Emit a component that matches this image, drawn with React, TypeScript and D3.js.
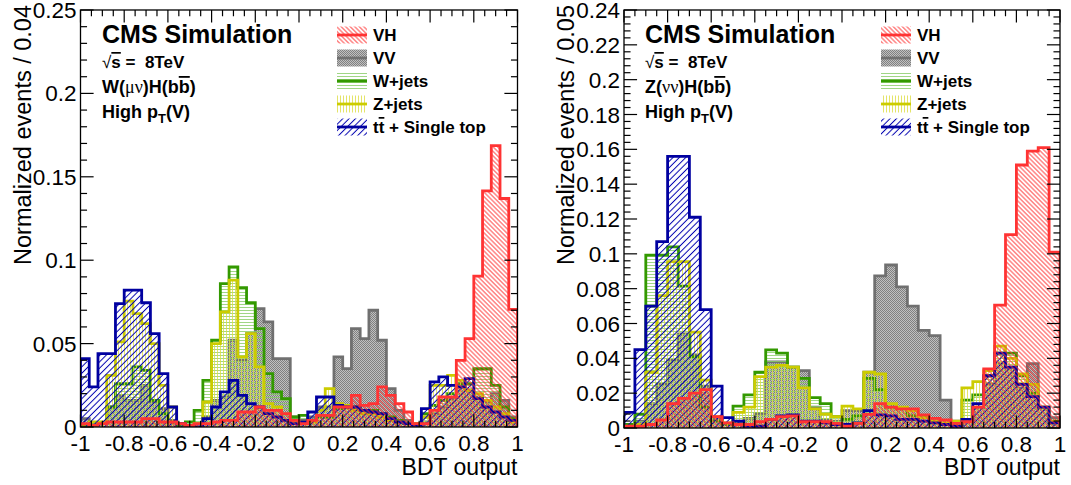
import React from 'react';
import * as d3 from 'd3';

// ---------------- DATA ----------------
// Left panel: W(mu nu)H(bb), 50 bins of width 0.04 on [-1, 1]
const leftVH = [0.002, 0.001, 0.002, 0.003, 0.003, 0.003, 0.003, 0.005, 0.005, 0.003,
  0.003, 0.002, 0.001, 0.002, 0.002, 0.003, 0.004, 0.004, 0.009, 0.009,
  0.012, 0.010, 0.010, 0.008, 0.004, 0.002, 0.004, 0.007, 0.007, 0.012,
  0.012, 0.019, 0.013, 0.014, 0.024, 0.019, 0.014, 0.009, 0.002, 0.002,
  0.010, 0.018, 0.018, 0.040, 0.053, 0.0905, 0.1416, 0.1687, 0.137, 0.0705];
const leftVV = [0.005, 0.002, 0.002, 0.012, 0.019, 0.016, 0.016, 0.025, 0.015, 0.011,
  0.004, 0.001, 0.001, 0.002, 0.006, 0.016, 0.018, 0.052, 0.040, 0.056,
  0.071, 0.063, 0.041, 0.041, 0.006, 0.004, 0.006, 0.012, 0.012, 0.042,
  0.035, 0.059, 0.053, 0.070, 0.052, 0.023, 0.010, 0.004, 0.002, 0.003,
  0.008, 0.012, 0.017, 0.025, 0.022, 0.018, 0.015, 0.020, 0.016, 0.006];
const leftWjets = [0.001, 0.001, 0.002, 0.012, 0.026, 0.026, 0.036, 0.034, 0.016, 0.008,
  0.003, 0.001, 0.003, 0.010, 0.028, 0.052, 0.086, 0.096, 0.0835, 0.0745,
  0.059, 0.032, 0.021, 0.017, 0.006, 0.007, 0.004, 0.006, 0.006, 0.011,
  0.012, 0.012, 0.010, 0.010, 0.008, 0.006, 0.004, 0.002, 0.002, 0.008,
  0.013, 0.016, 0.020, 0.026, 0.026, 0.035, 0.035, 0.025, 0.012, 0.005];
const leftZjets = [0.0, 0.003, 0.003, 0.031, 0.051, 0.0755, 0.068, 0.062, 0.050, 0.025,
  0.012, 0.002, 0.001, 0.002, 0.015, 0.050, 0.069, 0.088, 0.042, 0.056,
  0.036, 0.014, 0.012, 0.004, 0.003, 0.003, 0.003, 0.010, 0.023, 0.014,
  0.013, 0.010, 0.008, 0.008, 0.006, 0.004, 0.003, 0.002, 0.002, 0.006,
  0.025, 0.025, 0.031, 0.028, 0.022, 0.020, 0.016, 0.012, 0.008, 0.003];
const leftTop = [0.041, 0.024, 0.044, 0.044, 0.074, 0.082, 0.082, 0.0745, 0.056, 0.032,
  0.012, 0.002, 0.001, 0.0, 0.005, 0.012, 0.021, 0.028, 0.019, 0.014,
  0.012, 0.008, 0.006, 0.004, 0.002, 0.003, 0.009, 0.018, 0.018, 0.013,
  0.012, 0.012, 0.010, 0.009, 0.008, 0.005, 0.003, 0.002, 0.001, 0.011,
  0.027, 0.030, 0.025, 0.024, 0.029, 0.017, 0.012, 0.009, 0.006, 0.004];

// Right panel: Z(nu nu)H(bb), 40 bins of width 0.05 on [-1, 1]
const rightVH = [0.001, 0.001, 0.002, 0.0046, 0.014, 0.017, 0.020, 0.022, 0.0065, 0.003,
  0.002, 0.002, 0.0036, 0.005, 0.0065, 0.007, 0.0036, 0.0036, 0.0036, 0.0027,
  0.001, 0.0027, 0.0078, 0.014, 0.012, 0.011, 0.011, 0.0075, 0.0055, 0.0046,
  0.0027, 0.0036, 0.012, 0.034, 0.0706, 0.111, 0.151, 0.159, 0.161, 0.101];
const rightVV = [0.002, 0.004, 0.014, 0.025, 0.039, 0.054, 0.042, 0.024, 0.005, 0.002,
  0.0036, 0.0055, 0.0084, 0.038, 0.038, 0.035, 0.033, 0.012, 0.0046, 0.004,
  0.010, 0.010, 0.032, 0.0873, 0.0936, 0.081, 0.070, 0.056, 0.053, 0.016,
  0.004, 0.005, 0.012, 0.025, 0.037, 0.035, 0.023, 0.037, 0.011, 0.006];
const rightWjets = [0.002, 0.008, 0.0993, 0.0993, 0.104, 0.0815, 0.041, 0.012, 0.004, 0.002,
  0.0126, 0.019, 0.032, 0.0448, 0.043, 0.035, 0.0285, 0.0174, 0.014, 0.0065,
  0.005, 0.007, 0.0285, 0.022, 0.012, 0.011, 0.007, 0.006, 0.004, 0.002,
  0.002, 0.016, 0.019, 0.030, 0.043, 0.043, 0.030, 0.020, 0.012, 0.003];
const rightZjets = [0.0, 0.002, 0.032, 0.076, 0.0955, 0.0955, 0.055, 0.0275, 0.0065, 0.003,
  0.009, 0.012, 0.0295, 0.035, 0.036, 0.035, 0.023, 0.011, 0.008, 0.0065,
  0.0126, 0.011, 0.032, 0.031, 0.014, 0.012, 0.010, 0.006, 0.004, 0.003,
  0.004, 0.023, 0.0266, 0.033, 0.047, 0.040, 0.031, 0.025, 0.012, 0.004];
const rightTop = [0.009, 0.045, 0.070, 0.107, 0.156, 0.156, 0.121, 0.068, 0.024, 0.006,
  0.004, 0.001, 0.001, 0.005, 0.007, 0.0075, 0.004, 0.004, 0.003, 0.002,
  0.002, 0.003, 0.010, 0.0075, 0.007, 0.005, 0.005, 0.004, 0.003, 0.002,
  0.001, 0.005, 0.014, 0.030, 0.043, 0.035, 0.025, 0.018, 0.012, 0.003];

const xTicks = [-1, -0.8, -0.6, -0.4, -0.2, 0, 0.2, 0.4, 0.6, 0.8, 1];
const xTickLabels = ['-1', '-0.8', '-0.6', '-0.4', '-0.2', '0', '0.2', '0.4', '0.6', '0.8', '1'];
const leftYTicks = [0, 0.05, 0.1, 0.15, 0.2, 0.25];
const leftYTickLabels = ['0', '0.05', '0.1', '0.15', '0.2', '0.25'];
const rightYTicks = [0, 0.02, 0.04, 0.06, 0.08, 0.1, 0.12, 0.14, 0.16, 0.18, 0.2, 0.22, 0.24];
const rightYTickLabels = ['0', '0.02', '0.04', '0.06', '0.08', '0.1', '0.12', '0.14', '0.16', '0.18', '0.2', '0.22', '0.24'];

const legendKeys = ['VH', 'VV', 'Wjets', 'Zjets', 'Top'];

// ---------------- STYLE ----------------
const FONT = '"Liberation Sans", Arial, Helvetica, sans-serif';
const STYLE: Record<string, { color: string; pattern: string }> = {
  VH: { color: '#ff3333', pattern: 'url(#pVH)' },
  VV: { color: '#707070', pattern: 'url(#pVV)' },
  Wjets: { color: '#339900', pattern: 'url(#pW)' },
  Zjets: { color: '#cccc00', pattern: 'url(#pZ)' },
  Top: { color: '#0000a0', pattern: 'url(#pTop)' },
};
const drawOrder = ['VV', 'Wjets', 'Zjets', 'Top', 'VH'];

type PanelProps = {
  id: string;
  x0: number; x1: number; yt: number; yb: number;
  ymax: number; yMinor: number;
  yTicks: number[]; yTickLabels: string[];
  data: Record<string, number[]>;
  yTitle: string;
  channel: React.ReactNode;
  legendX: number;
  textX: number;
};

function LegendLabel({ k }: { k: string }) {
  if (k === 'VH') return <>VH</>;
  if (k === 'VV') return <>VV</>;
  if (k === 'Wjets') return <>W+jets</>;
  if (k === 'Zjets') return <>Z+jets</>;
  return <>t<tspan textDecoration="overline">t</tspan>{'\u00a0+ Single top'}</>;
}

function Panel(p: PanelProps) {
  const x = d3.scaleLinear().domain([-1, 1]).range([p.x0, p.x1]);
  const y = d3.scaleLinear().domain([0, p.ymax]).range([p.yb, p.yt]);
  const area = d3.area<[number, number]>().x(d => x(d[0])).y0(y(0)).y1(d => y(d[1])).curve(d3.curveStepAfter);
  const line = d3.line<[number, number]>().x(d => x(d[0])).y(d => y(d[1])).curve(d3.curveStepAfter);

  const paths = drawOrder.map(k => {
    const vals = p.data[k];
    const n = vals.length;
    const pts: [number, number][] = vals.map((v, i) => [-1 + (2 * i) / n, v]);
    pts.push([1, vals[n - 1]]);
    const outline: [number, number][] = [[-1, 0], ...pts, [1, 0]];
    return { k, fill: area(pts) || '', stroke: line(outline) || '' };
  });

  const xMinor = d3.range(0, 41).map(i => -1 + i * 0.05);
  const nY = Math.round(p.ymax / p.yMinor);
  const yMinor = d3.range(0, nY + 1).map(i => i * p.yMinor);
  const w = p.x1 - p.x0;
  const h = p.yb - p.yt;
  const xMajLen = 0.03 * h, xMinLen = 0.015 * h;
  const yMajLen = 0.03 * w, yMinLen = 0.015 * w;

  const rowY = [35, 58, 81, 104, 127];

  return (
    <g>
      <defs>
        <clipPath id={'clip' + p.id}>
          <rect x={p.x0} y={p.yt} width={w} height={h} />
        </clipPath>
      </defs>
      <g clipPath={`url(#clip${p.id})`}>
        {paths.map(d => (
          <g key={d.k}>
            <path d={d.fill} fill={STYLE[d.k].pattern} stroke="none" />
            <path d={d.stroke} fill="none" stroke={STYLE[d.k].color} strokeWidth={2.8} strokeLinejoin="miter" />
          </g>
        ))}
      </g>
      {/* frame */}
      <rect x={p.x0} y={p.yt} width={w} height={h} fill="none" stroke="#000" strokeWidth={1.3} />
      {/* ticks */}
      {xMinor.map((v, i) => {
        const len = i % 4 === 0 ? xMajLen : xMinLen;
        const xx = x(v);
        return (
          <g key={'xt' + i} stroke="#000" strokeWidth={1.2}>
            <line x1={xx} x2={xx} y1={p.yb} y2={p.yb - len} />
            <line x1={xx} x2={xx} y1={p.yt} y2={p.yt + len} />
          </g>
        );
      })}
      {yMinor.map((v, i) => {
        const len = i % 5 === 0 ? yMajLen : yMinLen;
        const yy = y(v);
        return (
          <g key={'yt' + i} stroke="#000" strokeWidth={1.2}>
            <line x1={p.x0} x2={p.x0 + len} y1={yy} y2={yy} />
            <line x1={p.x1} x2={p.x1 - len} y1={yy} y2={yy} />
          </g>
        );
      })}
      {/* tick labels */}
      {xTicks.map((v, i) => (
        <text key={'xl' + i} x={x(v)} y={p.yb + 24} textAnchor="middle" fontSize={22.5} fontFamily={FONT}>{xTickLabels[i]}</text>
      ))}
      {p.yTicks.map((v, i) => (
        <text key={'yl' + i} x={p.x0 - 4} y={y(v) + 8} textAnchor="end" fontSize={22.5} fontFamily={FONT}>{p.yTickLabels[i]}</text>
      ))}
      {/* axis titles */}
      <text x={p.x1} y={475} textAnchor="end" fontSize={23} fontFamily={FONT}>BDT output</text>
      <text transform={`translate(${p.x0 - 50},5) rotate(-90)`} textAnchor="end" fontSize={23.5} fontFamily={FONT}>{p.yTitle}</text>
      {/* annotations */}
      <g fontFamily={FONT} fontWeight="bold">
        <text x={p.textX} y={43} fontSize={25}>CMS Simulation</text>
        <text x={p.textX} y={68} fontSize={17}>
          <tspan fontWeight="normal">√</tspan><tspan textDecoration="overline">s</tspan>{' =\u00a0\u00a08TeV'}
        </text>
        <text x={p.textX} y={93} fontSize={18}>{p.channel}</text>
        <text x={p.textX} y={118} fontSize={18}>High p<tspan dy={5} fontSize={13}>T</tspan><tspan dy={-5}>(V)</tspan></text>
      </g>
      {/* legend */}
      {legendKeys.map((k, i) => (
        <g key={'lg' + k}>
          <rect x={p.legendX} y={rowY[i] - 8.5} width={30} height={17} fill={STYLE[k].pattern} />
          <line x1={p.legendX} x2={p.legendX + 30} y1={rowY[i]} y2={rowY[i]} stroke={STYLE[k].color} strokeWidth={2.8} />
          <text x={p.legendX + 36} y={rowY[i] + 6} fontSize={17} fontWeight="bold" fontFamily={FONT}>
            <LegendLabel k={k} />
          </text>
        </g>
      ))}
    </g>
  );
}

export default function App() {
  const leftData = { VH: leftVH, VV: leftVV, Wjets: leftWjets, Zjets: leftZjets, Top: leftTop };
  const rightData = { VH: rightVH, VV: rightVV, Wjets: rightWjets, Zjets: rightZjets, Top: rightTop };
  return (
    <svg width={1071} height={485} style={{ position: 'absolute', left: 0, top: 0, background: '#fff' }}>
      <defs>
        <pattern id="pVH" patternUnits="userSpaceOnUse" width={3.2} height={3.2} patternTransform="rotate(-45)">
          <line x1={1.6} y1={0} x2={1.6} y2={3.2} stroke="#ff3333" strokeWidth={0.9} />
        </pattern>
        <pattern id="pTop" patternUnits="userSpaceOnUse" width={4.5} height={4.5} patternTransform="rotate(45)">
          <line x1={2.25} y1={0} x2={2.25} y2={4.5} stroke="#0000b0" strokeWidth={1} />
        </pattern>
        <pattern id="pW" patternUnits="userSpaceOnUse" width={3} height={3}>
          <line x1={0} y1={1.5} x2={3} y2={1.5} stroke="#88cc66" strokeWidth={0.8} />
        </pattern>
        <pattern id="pZ" patternUnits="userSpaceOnUse" width={3} height={3}>
          <line x1={1.5} y1={0} x2={1.5} y2={3} stroke="#dddd44" strokeWidth={0.8} />
        </pattern>
        <pattern id="pVV" patternUnits="userSpaceOnUse" width={2} height={2}>
          <rect x={0} y={0} width={2} height={2} fill="#c0c0c0" />
          <rect x={0} y={0} width={1} height={1} fill="#808080" />
          <rect x={1} y={1} width={1} height={1} fill="#808080" />
        </pattern>
      </defs>
      <Panel id="L" x0={80.5} x1={517.5} yt={10} yb={427} ymax={0.25} yMinor={0.01}
        yTicks={leftYTicks} yTickLabels={leftYTickLabels} data={leftData}
        yTitle="Normalized events / 0.04"
        channel={<>W(<tspan fontFamily='"Liberation Serif", serif' fontWeight="normal">μν</tspan>)H(b<tspan textDecoration="overline">b</tspan>)</>}
        legendX={337} textX={102} />
      <Panel id="R" x0={624} x1={1060} yt={10} yb={428} ymax={0.24} yMinor={0.004}
        yTicks={rightYTicks} yTickLabels={rightYTickLabels} data={rightData}
        yTitle="Normalized events / 0.05"
        channel={<>Z(<tspan fontFamily='"Liberation Serif", serif' fontWeight="normal">νν</tspan>)H(b<tspan textDecoration="overline">b</tspan>)</>}
        legendX={881} textX={645} />
    </svg>
  );
}
